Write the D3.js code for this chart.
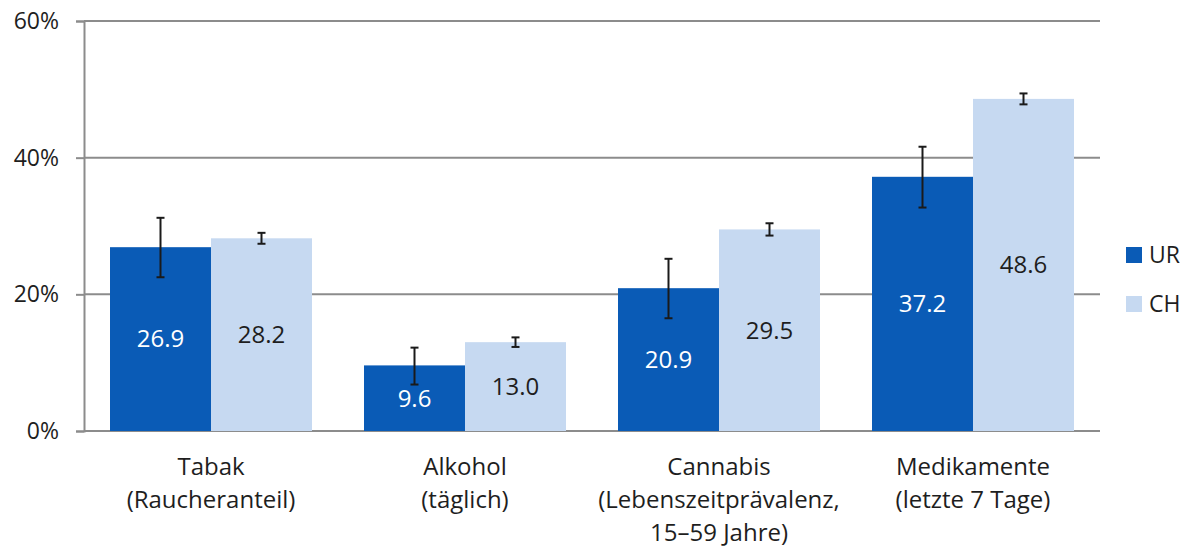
<!DOCTYPE html>
<html>
<head>
<meta charset="utf-8">
<script src="https://cdn.jsdelivr.net/npm/d3@7"></script>
<style>
  body { margin: 0; background: #fff; }
  text { font-family: "Open Sans", sans-serif; }
</style>
</head>
<body>
<script>
// chart data
let categories = ["Tabak", "Alkohol", "Cannabis", "Medikamente"];
let categoryLines = [
    ["Tabak", "(Raucheranteil)"],
    ["Alkohol", "(täglich)"],
    ["Cannabis", "(Lebenszeitprävalenz,", "15–59 Jahre)"],
    ["Medikamente", "(letzte 7 Tage)"]
];
let series = ["UR", "CH"];
let urValues = [26.9, 9.6, 20.9, 37.2];
let chValues = [28.2, 13.0, 29.5, 48.6];
let urLow = [22.5, 6.8, 16.5, 32.7];
let urHigh = [31.2, 12.2, 25.2, 41.6];
let chLow = [27.4, 12.3, 28.6, 47.8];
let chHigh = [29.0, 13.7, 30.4, 49.4];
let yTicks = [0, 20, 40, 60];

let colors = { UR: "#0a5bb6", CH: "#c6d9f1" };
let labelColors = { UR: "#ffffff", CH: "#1e1e1e" };
let gridColor = "#8c8c8c";

let W = 1195, H = 548;
let plotL = 84, plotR = 1100, plotT = 21, plotB = 431;

let svg = d3.select('body')
    .append('svg')
        .attr("width", W)
        .attr("height", H);

let x0 = d3.scaleBand()
    .domain(categories)
    .range([plotL, plotR]);
let x1 = d3.scaleBand()
    .domain(series)
    .range([26, x0.bandwidth() - 26]);
let y = d3.scaleLinear()
    .domain([0, 60])
    .range([plotB, plotT]);

// gridlines + y axis
let yAxis = d3.axisLeft(y)
    .tickValues(yTicks)
    .tickSize(8)
    .tickFormat(d => d + "%");
let ga = svg.append('g')
    .attr("transform", `translate(${plotL},0)`)
    .call(yAxis);
ga.select('.domain').attr("stroke", gridColor).attr("stroke-width", 2);
ga.selectAll('.tick line').attr("stroke", gridColor).attr("stroke-width", 2);
ga.selectAll('.tick text')
    .attr("x", -25)
    .attr("fill", "#1e1e1e")
    .style("font-size", "23px")
    .style("font-family", "'Open Sans', sans-serif");

svg.append('g').selectAll('line')
    .data(yTicks)
    .join('line')
        .attr("x1", plotL)
        .attr("x2", plotR)
        .attr("y1", d => y(d))
        .attr("y2", d => y(d))
        .attr("stroke", gridColor)
        .attr("stroke-width", 2);

// bars
let rows = categories.map((c, i) => ({
    cat: c,
    items: [
        { s: "UR", v: urValues[i], lo: urLow[i], hi: urHigh[i] },
        { s: "CH", v: chValues[i], lo: chLow[i], hi: chHigh[i] }
    ]
}));

let groups = svg.append('g').selectAll('g')
    .data(rows)
    .join('g')
        .attr("transform", d => `translate(${x0(d.cat)},0)`);

groups.selectAll('rect')
    .data(d => d.items)
    .join('rect')
        .attr("x", d => x1(d.s))
        .attr("y", d => y(d.v))
        .attr("width", x1.bandwidth())
        .attr("height", d => y(0) - y(d.v))
        .attr("fill", d => colors[d.s]);

// value labels
groups.selectAll('text.val')
    .data(d => d.items)
    .join('text')
        .attr("class", "val")
        .attr("x", d => x1(d.s) + x1.bandwidth() / 2)
        .attr("y", d => (y(d.v) + y(0)) / 2)
        .attr("dy", "0.35em")
        .attr("text-anchor", "middle")
        .attr("fill", d => labelColors[d.s])
        .style("font-size", "24px")
        .text(d => d.v.toFixed(1));

// error bars
let cap = 4;
let eb = groups.selectAll('g.err')
    .data(d => d.items)
    .join('g')
        .attr("class", "err")
        .attr("stroke", "#1a1a1a")
        .attr("stroke-width", 2);
eb.append('line')
    .attr("x1", d => x1(d.s) + x1.bandwidth() / 2)
    .attr("x2", d => x1(d.s) + x1.bandwidth() / 2)
    .attr("y1", d => y(d.lo))
    .attr("y2", d => y(d.hi));
eb.append('line')
    .attr("x1", d => x1(d.s) + x1.bandwidth() / 2 - cap)
    .attr("x2", d => x1(d.s) + x1.bandwidth() / 2 + cap)
    .attr("y1", d => y(d.hi))
    .attr("y2", d => y(d.hi));
eb.append('line')
    .attr("x1", d => x1(d.s) + x1.bandwidth() / 2 - cap)
    .attr("x2", d => x1(d.s) + x1.bandwidth() / 2 + cap)
    .attr("y1", d => y(d.lo))
    .attr("y2", d => y(d.lo));

// category labels
categories.forEach((c, i) => {
    let t = svg.append('text')
        .attr("text-anchor", "middle")
        .attr("fill", "#1e1e1e")
        .style("font-size", "24px");
    categoryLines[i].forEach((ln, j) => {
        t.append('tspan')
            .attr("x", x0(c) + x0.bandwidth() / 2)
            .attr("y", 475 + j * 33)
            .text(ln);
    });
});

// legend
let legend = svg.append('g').selectAll('g')
    .data(series)
    .join('g')
        .attr("transform", (d, i) => `translate(1126,${247 + i * 49})`);
legend.append('rect')
    .attr("width", 16)
    .attr("height", 16)
    .attr("fill", d => colors[d]);
legend.append('text')
    .attr("x", 23)
    .attr("y", 8)
    .attr("dy", "0.36em")
    .attr("fill", "#1e1e1e")
    .style("font-size", "23px")
    .text(d => d);
</script>
</body>
</html>
